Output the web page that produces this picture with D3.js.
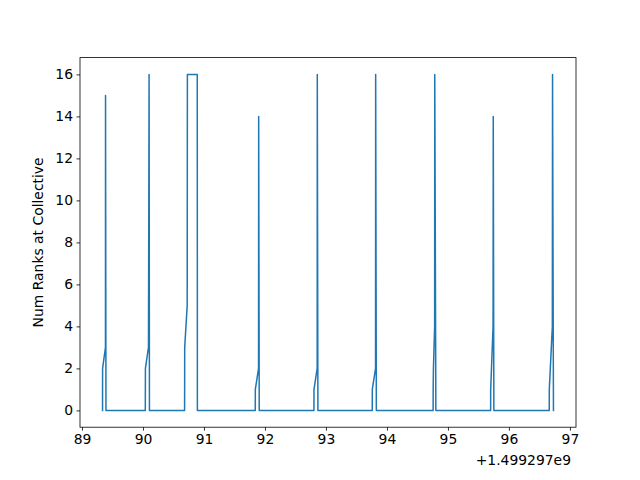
<html>
<head>
    <style>
        body { margin: 0; background: white; }
        text { font-family: 'DejaVu Sans', sans-serif; }
        .tick text { font-size: 13.9px; fill: black; }
        .tick line { stroke: black; stroke-width: 0.8; }
        .spine { fill: none; stroke: black; stroke-width: 0.8; }
        .pathLine { fill: none; stroke: #1f77b4; stroke-width: 1.5; stroke-linejoin: round; stroke-linecap: square; }
    </style>
</head>
<body>
    <svg id="container" height="480" width="640">
        <rect width="640" height="480" fill="white"></rect>
        <g id="body" transform="translate(80,57.6)"></g>
    </svg>
</body>
<script src="https://cdn.jsdelivr.net/npm/d3@7"></script>
<script>
    // seconds after the offset 1.499297e9
    let times = [
        89.337, 89.337, 89.338, 89.385, 89.386, 89.393,
        90.038, 90.039, 90.040, 90.090, 90.095, 90.100, 90.106,
        90.682, 90.683, 90.684, 90.725, 90.728, 90.890, 90.892,
        91.841, 91.842, 91.895, 91.897, 91.906,
        92.803, 92.804, 92.856, 92.858, 92.868,
        93.759, 93.760, 93.813, 93.815, 93.826,
        94.757, 94.758, 94.762, 94.782, 94.784, 94.802,
        95.700, 95.701, 95.740, 95.743, 95.753,
        96.661, 96.662, 96.712, 96.715, 96.730
    ];
    let counts = [
        0, 1, 2, 3, 15, 0,
        0, 1, 2, 3, 9, 16, 0,
        0, 1, 3, 5, 16, 16, 0,
        0, 1, 2, 14, 0,
        0, 1, 2, 16, 0,
        0, 1, 2, 16, 0,
        0, 1, 2, 4, 16, 0,
        0, 1, 4, 14, 0,
        0, 1, 4, 16, 0
    ];
    let xTicks = [89, 90, 91, 92, 93, 94, 95, 96, 97];
    let yTicks = [0, 2, 4, 6, 8, 10, 12, 14, 16];
    let offsetLabel = "+1.499297e9";
    let yLabel = "Num Ranks at Collective";

    let body = d3.select("#body");
    let bodyWidth = 496;
    let bodyHeight = 369.6;

    let data = times.map((t, i) => ({ t: t, n: counts[i] }));

    // matplotlib style 5% margins
    let xExt = d3.extent(times);
    let xPad = (xExt[1] - xExt[0]) * 0.05;
    let yExt = d3.extent(counts);
    let yPad = (yExt[1] - yExt[0]) * 0.05;

    let xScale = d3.scaleLinear()
        .domain([xExt[0] - xPad, xExt[1] + xPad])
        .range([0, bodyWidth]);
    let yScale = d3.scaleLinear()
        .domain([yExt[0] - yPad, yExt[1] + yPad])
        .range([bodyHeight, 0]);

    let valueLine = d3.line()
        .x(d => xScale(d.t))
        .y(d => yScale(d.n));

    body.append("path")
        .datum(data)
        .attr("d", valueLine)
        .attr("class", "pathLine");

    let xAxis = body.append("g")
        .attr("transform", `translate(0, ${bodyHeight})`)
        .call(d3.axisBottom(xScale)
            .tickValues(xTicks)
            .tickFormat(d => d)
            .tickSize(3.5)
            .tickPadding(3.5)
            .tickSizeOuter(0));
    xAxis.select(".domain").remove();

    let yAxis = body.append("g")
        .call(d3.axisLeft(yScale)
            .tickValues(yTicks)
            .tickFormat(d => d)
            .tickSize(3.5)
            .tickPadding(3.5)
            .tickSizeOuter(0));
    yAxis.select(".domain").remove();

    body.append("rect")
        .attr("class", "spine")
        .attr("width", bodyWidth)
        .attr("height", bodyHeight);

    body.append("text")
        .attr("x", bodyWidth - 5)
        .attr("y", bodyHeight + 38)
        .attr("text-anchor", "end")
        .attr("font-size", "13.9px")
        .text(offsetLabel);

    body.append("text")
        .attr("transform", `translate(-37, ${bodyHeight / 2}) rotate(-90)`)
        .attr("text-anchor", "middle")
        .attr("font-size", "13.9px")
        .text(yLabel);
</script>
</html>
